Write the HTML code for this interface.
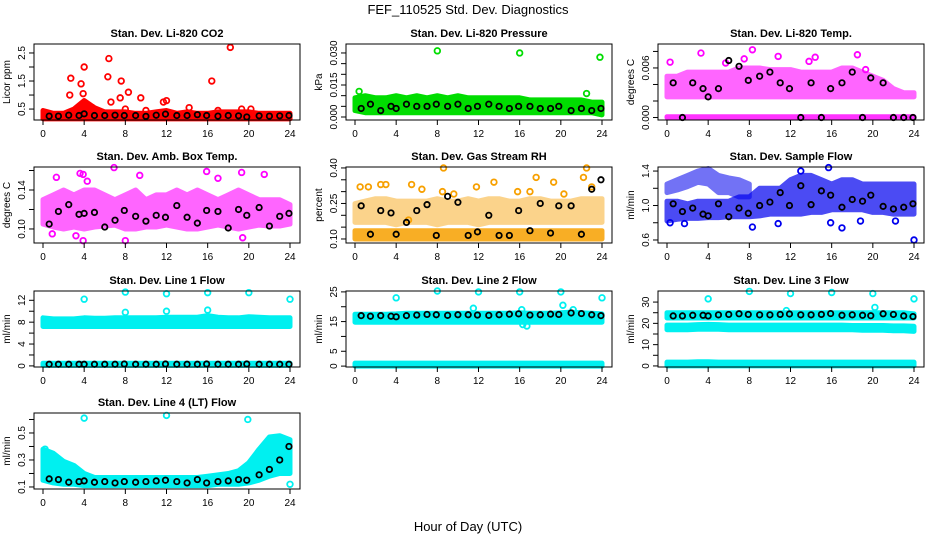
<!DOCTYPE html>
<html><head><meta charset="utf-8"><style>
body{margin:0;background:#fff}
svg{display:block;font-family:"Liberation Sans",Arial,sans-serif}
</style></head><body>
<svg id="chart" width="936" height="540" viewBox="0 0 936 540">
<text x="468" y="14" text-anchor="middle" font-size="13">FEF_110525  Std. Dev. Diagnostics</text>
<text x="468" y="531" text-anchor="middle" font-size="13">Hour of Day (UTC)</text>
</svg>
<script>
// ---- shared data ----
const hours = [0,1,2,3,4,5,6,7,8,9,10,11,12,13,14,15,16,17,18,19,20,21,22,23,24];
const blackX = [0.6,1.5,2.5,3.5,4,5,6,7,7.9,9,10,11,11.9,13,14,15,15.9,17,18,19,19.8,21,22,23,23.9];
const xTicks = [0,4,8,12,16,20,24];

// P1 CO2
const co2Lo = [0.15,0.15,0.15,0.15,0.15,0.15,0.15,0.15,0.15,0.15,0.15,0.15,0.15,0.15,0.15,0.15,0.15,0.15,0.15,0.15,0.15,0.15,0.15,0.15,0.15];
const co2Hi = [0.45,0.35,0.35,0.5,0.8,0.55,0.4,0.4,0.4,0.35,0.35,0.4,0.45,0.35,0.4,0.35,0.35,0.4,0.4,0.4,0.4,0.35,0.35,0.35,0.35];
const co2OutX = [2.6,2.7,3.7,4.0,3.9,6.3,6.4,6.6,7.5,7.6,8.3,9.5,11.7,12.0,14.2,16.4,18.2,17.0,19.3,20.2,4.8,8.0,10.0];
const co2OutY = [1.0,1.6,1.4,2.0,1.05,1.65,2.3,0.75,0.9,1.5,1.1,0.9,0.75,0.8,0.55,1.5,2.7,0.45,0.5,0.5,0.55,0.5,0.45];
const co2Black = [0.25,0.25,0.28,0.27,0.33,0.27,0.27,0.28,0.27,0.27,0.24,0.28,0.32,0.27,0.27,0.3,0.27,0.25,0.27,0.26,0.22,0.26,0.25,0.26,0.27];
// P2 pressure
const presLo = [0.003,0.002,0.002,0.002,0.002,0.002,0.002,0.002,0.002,0.002,0.002,0.002,0.002,0.002,0.002,0.002,0.002,0.002,0.002,0.002,0.002,0.002,0.002,0.002,0.001];
const presHi = [0.009,0.010,0.009,0.009,0.010,0.009,0.010,0.009,0.010,0.009,0.010,0.009,0.009,0.009,0.009,0.009,0.009,0.008,0.008,0.008,0.008,0.008,0.008,0.007,0.007];
const presOutX = [8,16,23.8,0.4,22.5];
const presOutY = [0.031,0.030,0.028,0.012,0.011];
const presBlack = [0.004,0.006,0.003,0.005,0.004,0.006,0.005,0.005,0.006,0.005,0.006,0.004,0.005,0.006,0.005,0.004,0.005,0.005,0.004,0.004,0.005,0.003,0.004,0.003,0.004];
// P3 Li-820 temp
const tempLo = [0.0025,0.0025,0.0025,0.0025,0.0025,0.0025,0.0025,0.0025,0.0025,0.0025,0.0025,0.0025,0.0025,0.0025,0.0025,0.0025,0.0025,0.0025,0.0025,0.0025,0.0025,0.0025,0.0025,0.0025,0.0025];
const tempHi = [0.0050,0.0050,0.0055,0.0055,0.0055,0.0055,0.0055,0.006,0.006,0.006,0.0058,0.0058,0.0058,0.0055,0.0055,0.0055,0.0055,0.006,0.006,0.0055,0.0050,0.0045,0.0035,0.0030,0.0030];
const tempZeroLo = [0,0,0,0,0,0,0,0,0,0,0,0,0,0,0,0,0,0,0,0,0,0,0,0,0];
const tempZeroHi = [0.0001,0.0001,0.0001,0.0001,0.0001,0.0001,0.0001,0.0001,0.0001,0.0001,0.0001,0.0001,0.0001,0.0001,0.0001,0.0001,0.0001,0.0001,0.0001,0.0001,0.0001,0.0001,0.0001,0.0001,0.0001];
const tempOutX = [0.3,3.3,7.5,8.3,10.8,13.8,14.4,18.5,19.3,5.7];
const tempOutY = [0.0067,0.0078,0.0071,0.0082,0.0074,0.0068,0.0073,0.0076,0.0058,0.0066];
const tempBlack = [0.0042,0,0.0042,0.0035,0.0025,0.0035,0.0069,0.0062,0.0045,0.005,0.0055,0.0042,0.0035,0,0.0042,0,0.0035,0.0042,0.0055,0,0.0048,0.0042,0,0,0];
// P4 amb box temp
const ambLo = [0.105,0.102,0.1,0.102,0.1,0.102,0.103,0.104,0.1,0.1,0.102,0.102,0.104,0.102,0.1,0.1,0.102,0.104,0.102,0.1,0.102,0.104,0.103,0.103,0.105];
const ambHi = [0.13,0.135,0.14,0.135,0.14,0.14,0.135,0.13,0.135,0.14,0.13,0.135,0.135,0.14,0.135,0.14,0.135,0.13,0.135,0.14,0.135,0.13,0.13,0.13,0.125];
const ambOutX = [1.3,3.6,3.9,6.9,3.2,3.9,8,9.4,15.9,17,19.3,19.4,21.5,0.9,4.3];
const ambOutY = [0.153,0.157,0.156,0.163,0.093,0.088,0.088,0.155,0.159,0.152,0.158,0.091,0.156,0.095,0.149];
const ambBlack = [0.105,0.118,0.125,0.115,0.116,0.117,0.102,0.109,0.119,0.113,0.108,0.114,0.112,0.124,0.112,0.106,0.119,0.118,0.101,0.12,0.114,0.122,0.103,0.113,0.116];
// P5 RH
const rhLo = [0.1,0.1,0.1,0.1,0.1,0.1,0.1,0.1,0.1,0.1,0.1,0.1,0.1,0.1,0.1,0.1,0.1,0.1,0.1,0.1,0.1,0.1,0.1,0.1,0.1];
const rhHi = [0.135,0.135,0.135,0.135,0.135,0.135,0.135,0.135,0.135,0.135,0.135,0.135,0.135,0.135,0.135,0.135,0.135,0.135,0.135,0.135,0.135,0.135,0.135,0.135,0.135];
const rhUpLo = [0.17,0.17,0.17,0.17,0.16,0.17,0.17,0.17,0.16,0.17,0.17,0.17,0.16,0.17,0.17,0.17,0.17,0.17,0.17,0.17,0.17,0.17,0.17,0.17,0.17];
const rhUpHi = [0.25,0.26,0.27,0.27,0.26,0.26,0.26,0.26,0.27,0.26,0.26,0.27,0.26,0.27,0.27,0.26,0.26,0.27,0.27,0.26,0.26,0.26,0.27,0.27,0.27];
const rhOutX = [0.5,1.3,2.5,3,5.5,6.5,8.5,8.6,9.6,11.8,13.5,15.8,17.6,17,19.3,20.3,22.2,22.5,23,5.2];
const rhOutY = [0.32,0.32,0.33,0.33,0.33,0.31,0.30,0.40,0.29,0.32,0.34,0.30,0.36,0.30,0.34,0.29,0.36,0.40,0.32,0.18];
const rhBlack = [0.24,0.12,0.22,0.21,0.12,0.17,0.22,0.245,0.115,0.28,0.255,0.115,0.13,0.2,0.115,0.115,0.22,0.135,0.25,0.125,0.24,0.24,0.12,0.31,0.35];
// P6 sample flow
const sfLo = [0.82,0.84,0.85,0.85,0.86,0.86,0.87,0.87,0.87,0.88,0.9,0.9,0.9,0.9,0.92,0.92,0.95,0.95,0.95,0.95,0.92,0.92,0.9,0.9,0.9];
const sfHi = [1.05,1.05,1.02,1.05,1.05,1.05,1.05,1.1,1.1,1.2,1.2,1.2,1.3,1.35,1.35,1.3,1.25,1.3,1.3,1.25,1.25,1.25,1.25,1.25,1.25];
const sfArcHours = [0,1,2,3,4,5,6,7,8];
const sfArcLo = [1.15,1.18,1.22,1.27,1.25,1.15,1.15,1.1,1.1];
const sfArcHi = [1.25,1.3,1.35,1.4,1.43,1.35,1.32,1.3,1.25];
const sfOutX = [0.3,1.7,8.3,10.8,15.9,17,18.8,22.2,24,15.7,13];
const sfOutY = [0.8,0.79,0.75,0.79,0.8,0.74,0.82,0.82,0.6,1.44,1.4];
const sfBlack = [1.02,0.93,0.97,0.9,0.88,1.02,0.87,0.97,0.91,1.0,1.04,1.15,1.0,1.23,1.01,1.17,1.12,0.98,1.07,1.05,1.12,0.99,0.96,0.98,1.02];
// P7 line 1
const l1Lo = [7.2,7.2,7.2,7.2,7.2,7.2,7.2,7.2,7.2,7.2,7.2,7.2,7.2,7.2,7.2,7.2,7.2,7.2,7.2,7.2,7.2,7.2,7.2,7.2,7.2];
const l1Hi = [8.8,8.6,8.6,8.6,8.8,8.7,8.7,8.8,8.8,8.8,8.8,8.8,8.9,8.9,8.9,8.9,9.2,8.9,8.8,8.8,9.0,8.9,8.8,8.8,8.8];
const l1ZLo = [0.1,0.1,0.1,0.1,0.1,0.1,0.1,0.1,0.1,0.1,0.1,0.1,0.1,0.1,0.1,0.1,0.1,0.1,0.1,0.1,0.1,0.1,0.1,0.1,0.1];
const l1ZHi = [0.5,0.5,0.5,0.5,0.5,0.5,0.5,0.5,0.5,0.5,0.5,0.5,0.5,0.5,0.5,0.5,0.5,0.5,0.5,0.5,0.5,0.5,0.5,0.5,0.5];
const l1OutX = [4,8,8,12,12,16,16,20,24];
const l1OutY = [12.2,13.5,9.8,13.2,10,13.4,10.2,13.4,12.2];
const l1Black = [0.3,0.3,0.3,0.3,0.3,0.3,0.3,0.3,0.35,0.3,0.3,0.3,0.35,0.3,0.3,0.3,0.35,0.3,0.3,0.3,0.35,0.3,0.3,0.3,0.3];
// P8 line 2
const l2Lo = [14.8,14.8,14.8,14.8,14.8,14.8,14.8,14.8,14.8,14.8,14.8,14.8,14.8,14.8,14.8,14.8,14.8,14.8,14.8,14.8,14.8,14.8,14.8,14.8,14.8];
const l2Hi = [17.5,17.5,17.5,17.5,17.6,17.8,17.8,17.8,17.8,17.8,17.8,17.8,17.8,17.8,17.8,17.8,18,17.8,17.8,17.8,18,18.2,18,17.8,17.6];
const l2ZLo = [0,0,0,0,0,0,0,0,0,0,0,0,0,0,0,0,0,0,0,0,0,0,0,0,0];
const l2ZHi = [1,1,1,1,1,1,1,1,1,1,1,1,1,1,1,1,1,1,1,1,1,1,1,1,1];
const l2OutX = [4,8,12,16,20,24,20.2,11.5,16.2,16.3,16.7,21.2];
const l2OutY = [23,25.3,25,25,25,23,20.5,19.5,19,14,13.5,19];
const l2Black = [17,16.8,17,16.8,16.6,17,17.2,17.4,17.3,17.1,17.3,17.3,17.2,17.1,17.3,17.5,17.6,17.2,17.3,17.5,17.4,17.9,17.7,17.3,17];
// P9 line 3
const l3Lo = [22.5,22.5,22.5,22.5,22.5,22.5,22.5,22.5,22.5,22.5,22.5,22.5,22.5,22.5,22.5,22.5,22.5,22.5,22.5,22.5,22.5,22.5,22.5,22.5,22.5];
const l3Hi = [25,25,25,25,25,25,25,25,25,25,25,25,25,25,25,25,25,25,25,25,25,25,25,25,24.5];
const l3MLo = [17,17,17,17.2,17.2,17.2,17,17,17,17,17,17,17,17,17,17,17,17,17,16.8,16.8,16.8,16.5,16.5,16.2];
const l3MHi = [19.2,19.2,19.2,19.4,19.5,19.4,19.2,19.2,19.2,19.2,19.2,19.2,19.2,19.2,19.2,19.2,19.2,19.2,19,19,19,19,18.8,18.8,18.6];
const l3ZLo = [0,0,0,0,0,0,0,0,0,0,0,0,0,0,0,0,0,0,0,0,0,0,0,0,0];
const l3ZHi = [1.8,1.8,1.8,2,2,1.8,1.8,1.8,1.8,1.8,1.8,1.8,1.8,1.8,1.8,1.8,1.8,1.8,1.8,1.8,1.8,1.8,1.8,1.8,1.8];
const l3OutX = [4,8,12,16,20,20.2,24,11.6];
const l3OutY = [31.5,35,34,34.5,34,27.5,31.5,26];
const l3Black = [23.5,23.5,23.8,23.8,23.5,24,24.2,24.5,24.2,24,24,24.2,24.4,24,24,24.2,24.6,23.8,24,23.8,23.6,24.5,24.2,23.5,23.2];
// P10 line 4
const l4Lo = [0.15,0.13,0.12,0.12,0.11,0.11,0.11,0.11,0.11,0.11,0.11,0.11,0.11,0.11,0.11,0.11,0.11,0.12,0.12,0.12,0.13,0.15,0.18,0.2,0.2];
const l4Hi = [0.38,0.35,0.29,0.26,0.2,0.17,0.17,0.17,0.17,0.17,0.17,0.17,0.17,0.17,0.17,0.17,0.18,0.19,0.2,0.22,0.28,0.38,0.47,0.48,0.45];
const l4OutX = [4,12,19.9,24,0.2];
const l4OutY = [0.61,0.63,0.6,0.12,0.38];
const l4Black = [0.16,0.155,0.135,0.14,0.145,0.135,0.14,0.13,0.14,0.135,0.14,0.145,0.15,0.14,0.13,0.155,0.13,0.14,0.145,0.155,0.15,0.19,0.23,0.3,0.4];

const NS = 'http://www.w3.org/2000/svg';
const svg = document.getElementById('chart');
function mk(tag, attrs, parent){const e=document.createElementNS(NS,tag);for(const k in attrs)e.setAttribute(k,attrs[k]);(parent||svg).appendChild(e);return e;}

const panels = [
 {name:'co2',title:'Stan. Dev. Li-820 CO2',yl:'Licor ppm',L:34,T:44,ymin:0.11,ymax:2.82,ticks:[0.5,1.0,1.5,2.0,2.5],labels:{'0.5':'0.5','1.5':'1.5','2.5':'2.5'},col:'#ff0000',
  bands:[[hours,co2Lo,co2Hi]],ox:co2OutX,oy:co2OutY,by:co2Black},
 {name:'pressure',title:'Stan. Dev. Li-820 Pressure',yl:'kPa',L:346,T:44,ymin:-0.0014,ymax:0.0342,ticks:[0,0.005,0.01,0.015,0.02,0.025,0.03],labels:{'0':'0.000','0.015':'0.015','0.03':'0.030'},col:'#00dd00',
  bands:[[hours,presLo,presHi]],ox:presOutX,oy:presOutY,by:presBlack},
 {name:'li820-temp',title:'Stan. Dev. Li-820 Temp.',yl:'degrees C',L:658,T:44,ymin:-0.0003,ymax:0.0089,ticks:[0,0.002,0.004,0.006,0.008],labels:{'0':'0.000','0.006':'0.006'},col:'#ff00ff',
  bands:[[hours,tempLo,tempHi,0.6],[hours,tempZeroLo,tempZeroHi,0.8]],ox:tempOutX,oy:tempOutY,by:tempBlack},
 {name:'amb-box-temp',title:'Stan. Dev. Amb. Box Temp.',yl:'degrees C',L:34,T:167,ymin:0.0856,ymax:0.1636,ticks:[0.10,0.12,0.14,0.16],labels:{'0.1':'0.10','0.14':'0.14'},col:'#ff00ff',
  bands:[[hours,ambLo,ambHi,0.6]],ox:ambOutX,oy:ambOutY,by:ambBlack},
 {name:'gas-stream-rh',title:'Stan. Dev. Gas Stream RH',yl:'percent',L:346,T:167,ymin:0.083,ymax:0.404,ticks:[0.10,0.15,0.20,0.25,0.30,0.35,0.40],labels:{'0.1':'0.10','0.25':'0.25','0.4':'0.40'},col:'#f7a000',
  bands:[[hours,rhLo,rhHi,0.85],[hours,rhUpLo,rhUpHi,0.45]],ox:rhOutX,oy:rhOutY,by:rhBlack},
 {name:'sample-flow',title:'Stan. Dev. Sample Flow',yl:'ml/min',L:658,T:167,ymin:0.565,ymax:1.447,ticks:[0.6,0.8,1.0,1.2,1.4],labels:{'0.6':'0.6','1':'1.0','1.4':'1.4'},col:'#0000ee',
  bands:[[hours,sfLo,sfHi,0.7],[sfArcHours,sfArcLo,sfArcHi,0.55]],ox:sfOutX,oy:sfOutY,by:sfBlack},
 {name:'line1-flow',title:'Stan. Dev. Line 1 Flow',yl:'ml/min',L:34,T:291,ymin:-0.2,ymax:13.7,ticks:[0,2,4,6,8,10,12],labels:{'0':'0','4':'4','8':'8','12':'12'},col:'#00f0f0',
  bands:[[hours,l1Lo,l1Hi],[hours,l1ZLo,l1ZHi]],ox:l1OutX,oy:l1OutY,by:l1Black},
 {name:'line2-flow',title:'Stan. Dev. Line 2 Flow',yl:'ml/min',L:346,T:291,ymin:-0.3,ymax:25.3,ticks:[0,5,10,15,20,25],labels:{'0':'0','5':'5','15':'15','25':'25'},col:'#00f0f0',
  bands:[[hours,l2Lo,l2Hi],[hours,l2ZLo,l2ZHi]],ox:l2OutX,oy:l2OutY,by:l2Black},
 {name:'line3-flow',title:'Stan. Dev. Line 3 Flow',yl:'ml/min',L:658,T:291,ymin:-0.5,ymax:35.2,ticks:[0,5,10,15,20,25,30],labels:{'0':'0','10':'10','20':'20','30':'30'},col:'#00f0f0',
  bands:[[hours,l3Lo,l3Hi],[hours,l3MLo,l3MHi],[hours,l3ZLo,l3ZHi]],ox:l3OutX,oy:l3OutY,by:l3Black},
 {name:'line4-flow',title:'Stan. Dev. Line 4 (LT) Flow',yl:'ml/min',L:34,T:413,ymin:0.085,ymax:0.648,ticks:[0.1,0.2,0.3,0.4,0.5,0.6],labels:{'0.1':'0.1','0.3':'0.3','0.5':'0.5'},col:'#00f0f0',
  bands:[[hours,l4Lo,l4Hi]],ox:l4OutX,oy:l4OutY,by:l4Black}
];
const W=266,H=76;
panels.forEach(p=>{
  const g=mk('g',{});
  
  
  const xs=h=>p.L+9+h*247/24;
  const ys=v=>p.T+H-(v-p.ymin)/(p.ymax-p.ymin)*H;
  const t=mk('text',{x:p.L+W/2,y:p.T-7,'text-anchor':'middle','font-size':11,'font-weight':'bold'},g);
  t.textContent=p.title;
  
  
  p.bands.forEach(b=>{
    const [hx,lo,hi,op]=b;
    let pts=[];
    hx.forEach((h,i)=>pts.push(xs(h).toFixed(1)+','+ys(hi[i]).toFixed(1)));
    for(let i=hx.length-1;i>=0;i--)pts.push(xs(hx[i]).toFixed(1)+','+ys(lo[i]).toFixed(1));
    const pg=mk('polygon',{points:pts.join(' '),fill:p.col,stroke:p.col,'stroke-width':5,'stroke-linejoin':'round',opacity:op||1},g);
    
    
  });
  p.ox.forEach((x,i)=>{
    const c=mk('circle',{cx:xs(x),cy:ys(p.oy[i]),r:2.8,fill:'none',stroke:p.col,'stroke-width':1.8},g);
    
    
  });
  blackX.forEach((x,i)=>{
    const c=mk('circle',{cx:xs(x),cy:ys(p.by[i]),r:2.7,fill:'none',stroke:'#000','stroke-width':1.8},g);
    
    
  });
  const box=mk('rect',{x:p.L,y:p.T,width:W,height:H,fill:'none',stroke:'#000','stroke-width':1},g);
  
  
  xTicks.forEach(h=>{
    const x=xs(h);
    mk('line',{x1:x,x2:x,y1:p.T+H,y2:p.T+H+5,stroke:'#000'},g);
    const tl=mk('text',{x:x,y:p.T+H+17,'text-anchor':'middle','font-size':10},g);
    tl.textContent=h;
    
    
  });
  p.ticks.forEach(v=>{
    const y=ys(v);
    mk('line',{x1:p.L-5,x2:p.L,y1:y,y2:y,stroke:'#000'},g);
    const key=String(+v.toFixed(4));
    if(p.labels[key]!==undefined){
      const yl=mk('text',{x:p.L-9,y:y,'text-anchor':'middle','font-size':10,transform:`rotate(-90 ${p.L-9} ${y})`},g);
      yl.textContent=p.labels[key];
      
      
    }
  });
  const yt=mk('text',{x:p.L-24,y:p.T+H/2,'text-anchor':'middle','font-size':10,transform:`rotate(-90 ${p.L-24} ${p.T+H/2})`},g);
  yt.textContent=p.yl;
  
  
});
</script>
</body></html>
